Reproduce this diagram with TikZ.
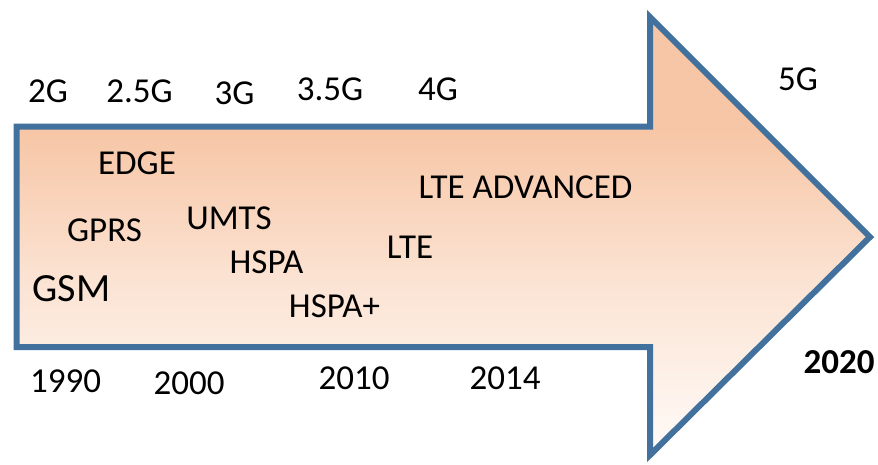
\documentclass[tikz,border=0pt]{standalone}
\usepackage{fontspec}
\setmainfont{Carlito}
\definecolor{arrowline}{HTML}{41719C}
\definecolor{peach}{HTML}{F7C6A6}
\definecolor{peachlight}{HTML}{FBE3D3}
\definecolor{peachpale}{HTML}{FFFBF8}
% vertical fill of the timeline arrow: 25bp = bottom edge, 75bp = top edge
\pgfdeclareverticalshading{peachfade}{100bp}{%
  color(0bp)=(peachpale); color(25bp)=(peachpale);
  color(45bp)=(peachlight); color(62bp)=(peach); color(100bp)=(peach)}
\tikzset{
  lbl/.style={anchor=base, inner sep=0pt, font=\fontsize{35}{40}\selectfont},
  biglbl/.style={lbl, font=\fontsize{40}{46}\selectfont},
  boldlbl/.style={lbl, font=\fontsize{35}{40}\selectfont\bfseries},
}
\begin{document}
\begin{tikzpicture}[x=1pt,y=-1pt]
\useasboundingbox (0,0) rectangle (878,464);
% the timeline arrow
\path[shading=peachfade, draw=arrowline, line width=6pt, line join=miter]
  (16.5,126.5) -- (650,126.5) -- (650,17) -- (870,237) -- (650,455)
  -- (650,347) -- (16.5,347) -- cycle;
% generations
\node[lbl] (g2)  at (48,102)  {2G};
\node[lbl] (g25) at (139.5,102) {2.5G};
\node[lbl] (g3)  at (234.5,104) {3G};
\node[lbl] (g35) at (330,100) {3.5G};
\node[lbl] (g4)  at (438,100) {4G};
\node[lbl] (g5)  at (798,90)  {5G};
% technologies
\node[lbl] (edge) at (137,174) {EDGE};
\node[lbl] (gprs) at (104.5,241) {GPRS};
\node[biglbl] (gsm) at (71.5,301) {GSM};
\node[lbl] (umts) at (229,229) {UMTS};
\node[lbl] (hspa) at (266.5,273) {HSPA};
\node[lbl] (hspap) at (334.5,317) {HSPA+};
\node[lbl] (lte) at (410,258) {LTE};
\node[lbl] (ltea) at (525.5,198) {LTE ADVANCED};
% years
\node[lbl] (y1990) at (65.5,392) {1990};
\node[lbl] (y2000) at (189,394) {2000};
\node[lbl] (y2010) at (354,389) {2010};
\node[lbl] (y2014) at (505,389) {2014};
\node[boldlbl] (y2020) at (839,373) {2020};
\end{tikzpicture}
\end{document}
